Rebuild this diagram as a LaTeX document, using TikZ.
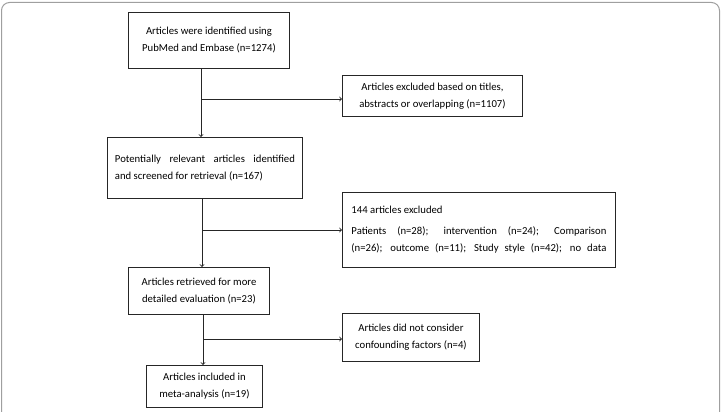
\documentclass[tikz,border=0pt]{standalone}
\usepackage{fontspec}
\setmainfont{Carlito}
\newcommand\spreadline[2]{\makebox[#1][s]{#2}}
\begin{document}
\begin{tikzpicture}[x=1pt,y=-1pt,
  box/.style={draw=black!85,line width=0.9pt,inner sep=0pt,anchor=north west,
    align=center,font=\fontsize{10.7}{17}\selectfont},
  arr/.style={draw=black!85,line width=0.9pt,->}]
   \useasboundingbox (0,0) rectangle (721,412);
   \draw[gray!75,line width=1pt,rounded corners=8pt] (1.5,2.5) rectangle (719.5,430);
   \node[box,minimum width=161pt,minimum height=56pt] (found) at (128,12)
     {Articles were identified using\\PubMed and Embase (n=1274)};
   \node[box,minimum width=180pt,minimum height=41pt] (titles) at (342,75)
     {Articles excluded based on titles,\\abstracts or overlapping (n=1107)};
   \node[box,minimum width=195pt,minimum height=61pt,align=left] (screened) at (107,137)
     {\spreadline{180pt}{Potentially relevant articles identified}\\and screened for retrieval (n=167)};
   \node[box,minimum width=273pt,minimum height=75pt,align=left] (excluded) at (342,192)
     {144 articles excluded\\[4pt]
      \spreadline{255pt}{Patients (n=28); intervention (n=24); Comparison}\\
      \spreadline{255pt}{(n=26); outcome (n=11); Study style (n=42); no data}};
   \node[box,minimum width=141pt,minimum height=47pt] (retrieved) at (128,267)
     {Articles retrieved for more\\detailed evaluation (n=23)};
   \node[box,minimum width=137pt,minimum height=48pt] (confound) at (342,313)
     {Articles did not consider\\confounding factors (n=4)};
   \node[box,minimum width=116pt,minimum height=42pt] (included) at (146,365)
     {Articles included in\\meta-analysis (n=19)};
   \coordinate (k1) at (201,99);
   \coordinate (k2) at (202,230);
   \coordinate (k3) at (203,339);
   \draw[arr] (found.south -| k1) -- (screened.north -| k1);
   \draw[arr] (k1) -- (k1 -| titles.west);
   \draw[arr] (screened.south -| k2) -- (retrieved.north -| k2);
   \draw[arr] (k2) -- (k2 -| excluded.west);
   \draw[arr] (retrieved.south -| k3) -- (included.north -| k3);
   \draw[arr] (k3) -- (k3 -| confound.west);
\end{tikzpicture}
\end{document}
